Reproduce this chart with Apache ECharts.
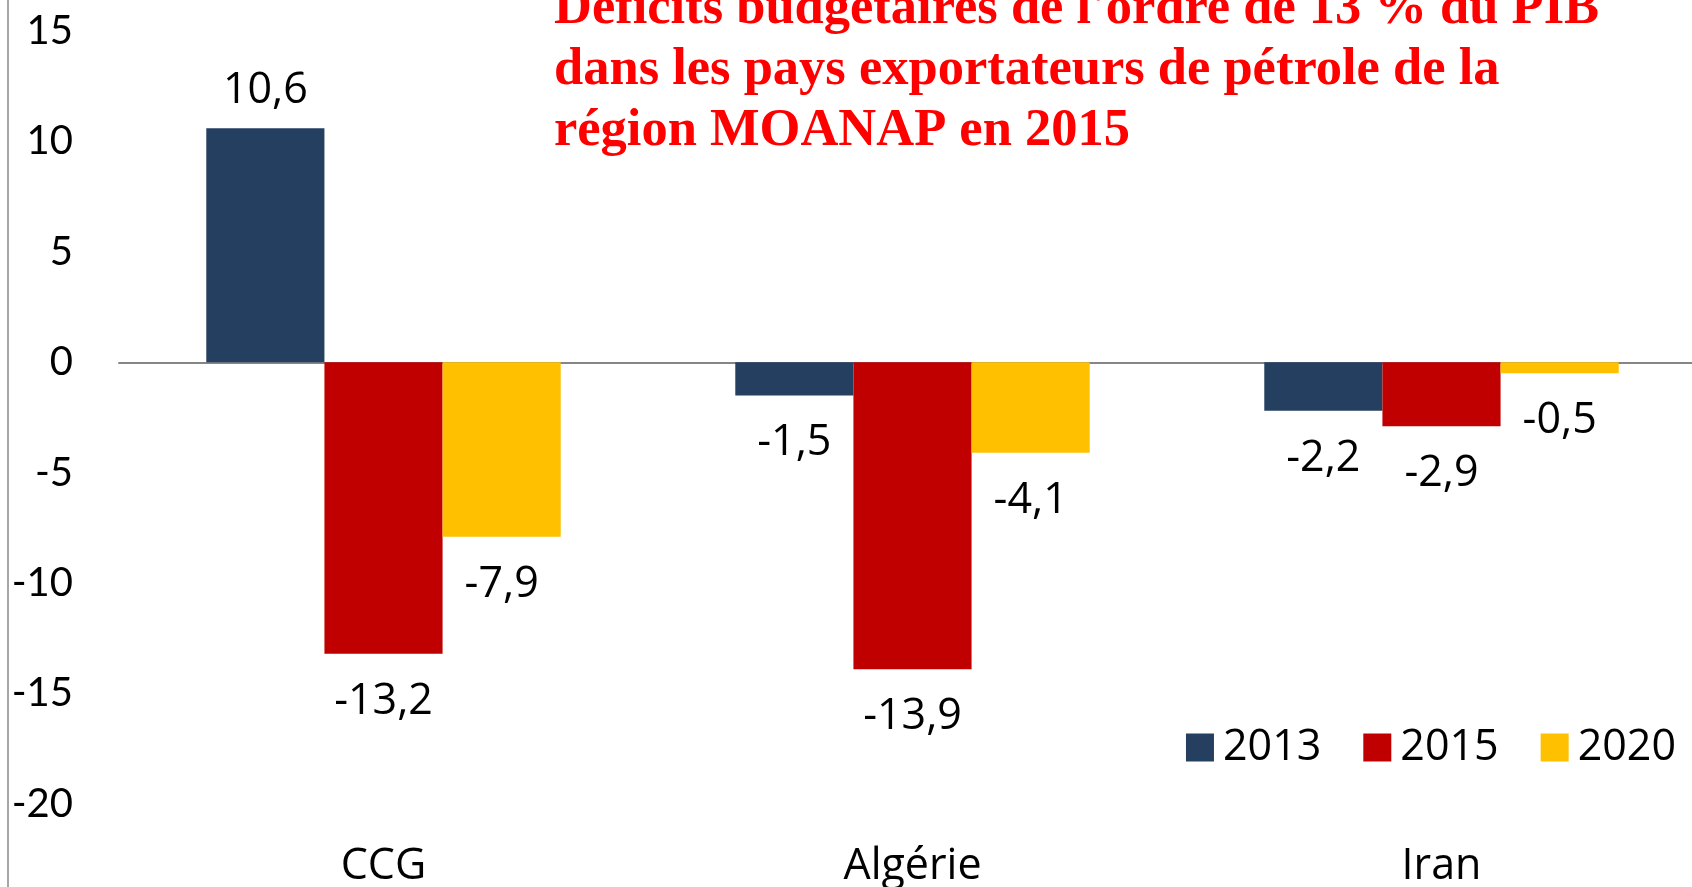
<!DOCTYPE html>
<html>
<head>
<meta charset="utf-8">
<script src="https://cdn.jsdelivr.net/npm/echarts@6/dist/echarts.min.js"></script>
<style>
  html, body { margin: 0; padding: 0; background: #fff; }
  #chart { width: 1692px; height: 887px; }
</style>
</head>
<body>
<div id="chart"></div>
<script>
  // données
  var categories = ['CCG', 'Algérie', 'Iran'];
  var years = ['2013', '2015', '2020'];
  var values2013 = [10.6, -1.5, -2.2];
  var values2015 = [-13.2, -13.9, -2.9];
  var values2020 = [-7.9, -4.1, -0.5];
  var colors = ['#243F60', '#C00000', '#FFC000'];

  var chart = echarts.init(document.getElementById('chart'));

  function fmt(p) {
    return String(p.value).replace('.', ',');
  }

  // étiquettes au-dessus pour les positifs, en dessous pour les négatifs
  function makeSeries(name, values, color) {
    return {
      name: name,
      type: 'bar',
      barGap: '0%',
      barCategoryGap: '33%',
      itemStyle: { color: color },
      label: {
        show: true,
        formatter: fmt,
        fontFamily: 'Open Sans',
        fontSize: 43,
        color: '#000'
      },
      data: values.map(function (v) {
        return {
          value: v,
          label: { position: v >= 0 ? 'top' : 'bottom', distance: v >= 0 ? 16 : 26 }
        };
      })
    };
  }

  var option = {
    animation: false,
    backgroundColor: '#fff',
    title: {
      text: "Déficits budgétaires de l'ordre de 13 % du PIB\ndans les pays exportateurs de pétrole de la\nrégion MOANAP en 2015",
      left: 549,
      top: -26,
      textStyle: {
        fontFamily: 'Liberation Serif',
        fontWeight: 'bold',
        fontSize: 52.5,
        lineHeight: 61,
        color: '#FF0000'
      }
    },
    legend: {
      right: 11,
      top: 721,
      itemWidth: 28,
      itemHeight: 28,
      itemGap: 42,
      icon: 'rect',
      textStyle: { fontFamily: 'Open Sans', fontSize: 43, color: '#000', padding: [0, 0, 0, 4] },
      data: years
    },
    grid: { left: 119, width: 1587, top: 31, bottom: 83, outerBoundsMode: 'none' },
    xAxis: [
      {
        type: 'category',
        data: categories,
        axisLine: { onZero: true, lineStyle: { color: '#868686', width: 2 } },
        axisTick: { show: false },
        axisLabel: { show: false }
      },
      {
        type: 'category',
        data: categories,
        position: 'bottom',
        axisLine: { show: false, onZero: false },
        axisTick: { show: false },
        axisLabel: { margin: 41, fontFamily: 'Open Sans', fontSize: 43, color: '#000' }
      }
    ],
    yAxis: {
      type: 'value',
      min: -20,
      max: 15,
      interval: 5,
      axisLine: { show: false },
      axisTick: { show: false },
      splitLine: { show: false },
      axisLabel: { margin: 46, fontFamily: 'Lato', fontSize: 40, color: '#000' }
    },
    graphic: [
      {
        type: 'line',
        shape: { x1: 8, y1: 0, x2: 8, y2: 887 },
        style: { stroke: '#A6A6A6', lineWidth: 2 }
      }
    ],
    series: [
      makeSeries(years[0], values2013, colors[0]),
      makeSeries(years[1], values2015, colors[1]),
      makeSeries(years[2], values2020, colors[2])
    ]
  };

  chart.setOption(option);
</script>
</body>
</html>
